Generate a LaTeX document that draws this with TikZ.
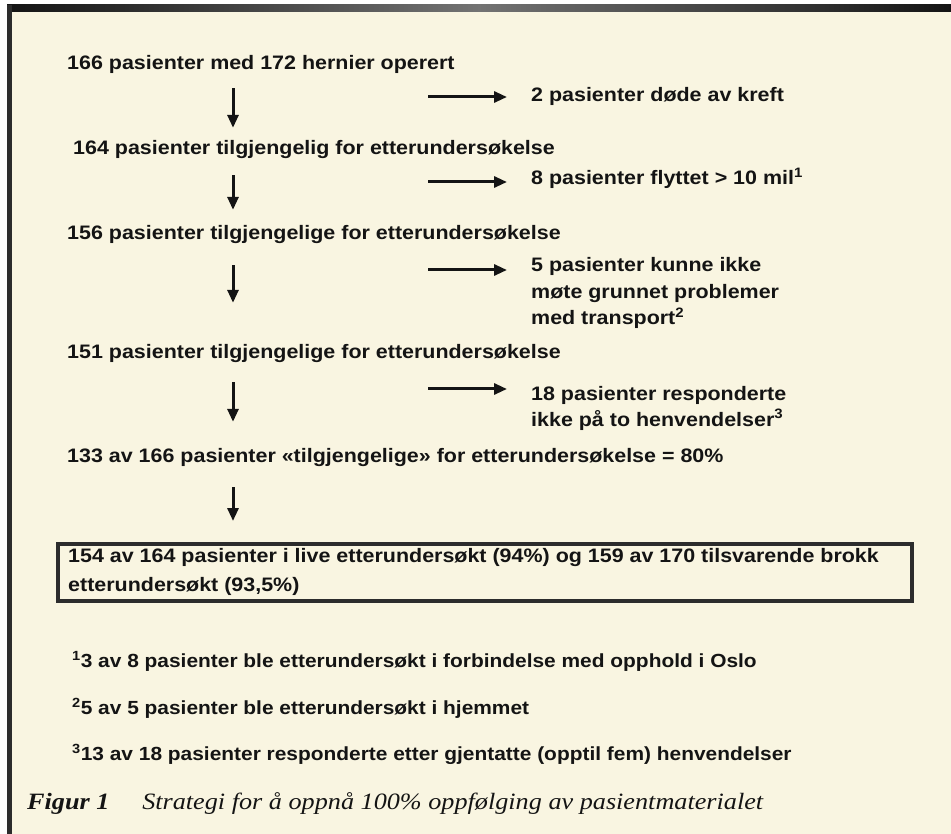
\documentclass[tikz,border=0pt]{standalone}
\usepackage{fontspec}
\newfontfamily\bodyfont[FakeStretch=1.1]{Liberation Sans}
\newfontfamily\capfont[FakeStretch=1.12]{Liberation Serif}
\usetikzlibrary{arrows.meta}
\definecolor{paper}{RGB}{249,245,225}
\definecolor{ink}{RGB}{20,20,20}
\newcommand{\mylines}[1]{\begin{tabular}[t]{@{}l@{}}#1\end{tabular}}
\tikzset{
  txt/.style={anchor=base west, inner sep=0pt, text height=14pt, text depth=4pt, text=ink,
    font=\bodyfont\bfseries\fontsize{19.5}{26.5}\selectfont},
  fntxt/.style={txt, font=\bodyfont\bfseries\fontsize{19}{26}\selectfont},
  mtxt/.style={anchor=base west, inner sep=0pt, text=ink,
    font=\bodyfont\bfseries\fontsize{19.5}{26.5}\selectfont},
  boxtxt/.style={anchor=base west, inner sep=0pt, text=ink,
    font=\bodyfont\bfseries\fontsize{19.5}{29}\selectfont},
  captxt/.style={anchor=base west, inner sep=0pt, text=ink,
    font=\capfont\itshape\fontsize{23.4}{28}\selectfont},
  flow/.style={draw=ink, line width=3pt, -{Triangle[length=13pt,width=11pt]}},
  boxframe/.style={draw=ink!90, line width=4pt, inner sep=0pt, anchor=north west,
    minimum width=854pt, minimum height=57pt}
}
\begin{document}
\begin{tikzpicture}[x=1pt,y=-1pt]
  % page and paper
  \fill[white] (0,0) rectangle (951,834);
  \fill[paper] (7,5) rectangle (951,834);
  \shade[left color=ink, right color=ink, middle color=black!55] (7,5) rectangle (951,12);
  \fill[ink!90] (7,5) rectangle (12,834);
  \useasboundingbox (0,0) rectangle (951,834);

  % main column
  \node[txt] (L1) at (67,70)  {166 pasienter med 172 hernier operert};
  \node[txt] (L2) at (73,155) {164 pasienter tilgjengelig for etterundersøkelse};
  \node[txt] (L3) at (67,240) {156 pasienter tilgjengelige for etterundersøkelse};
  \node[txt] (L4) at (67,359) {151 pasienter tilgjengelige for etterundersøkelse};
  \node[txt] (L5) at (67,462) {133 av 166 pasienter «tilgjengelige» for etterundersøkelse = 80\%};

  % result box
  \node[boxframe] (box) at (56,542) {};
  \node[boxtxt] (boxtext) at (68,562) {\mylines{154 av 164 pasienter i live etterundersøkt (94\%) og 159 av 170 tilsvarende brokk\\etterundersøkt (93,5\%)}};

  % exclusions
  \node[txt]  (R1) at (531,102) {2 pasienter døde av kreft};
  \node[txt]  (R2) at (531,185) {8 pasienter flyttet > 10 mil\textsuperscript{1}};
  \node[mtxt] (R3) at (531,272) {\mylines{5 pasienter kunne ikke\\møte grunnet problemer\\med transport\textsuperscript{2}}};
  \node[mtxt] (R4) at (531,400) {\mylines{18 pasienter responderte\\ikke på to henvendelser\textsuperscript{3}}};

  % footnotes
  \node[fntxt] (F1) at (72,667) {\textsuperscript{1}3 av 8 pasienter ble etterundersøkt i forbindelse med opphold i Oslo};
  \node[fntxt] (F2) at (72,714) {\textsuperscript{2}5 av 5 pasienter ble etterundersøkt i hjemmet};
  \node[fntxt] (F3) at (72,760) {\textsuperscript{3}13 av 18 pasienter responderte etter gjentatte (opptil fem) henvendelser};

  % caption
  \node[captxt] (cap) at (27,809) {{\bfseries Figur 1}\hspace{1.4em}Strategi for å oppnå 100\% oppfølging av pasientmaterialet};

  % down arrows
  \coordinate (ax) at (233,0);
  \draw[flow, shorten <=14pt, shorten >=13pt] (L1.south -| ax) -- (L2.north -| ax);
  \draw[flow, shorten <=16pt, shorten >=16pt] (L2.south -| ax) -- (L3.north -| ax);
  \draw[flow, shorten <=21pt, shorten >=42pt] (L3.south -| ax) -- (L4.north -| ax);
  \draw[flow, shorten <=19pt, shorten >=26pt] (L4.south -| ax) -- (L5.north -| ax);
  \draw[flow, shorten <=21pt, shorten >=21pt] (L5.south -| ax) -- (box.north -| ax);

  % side arrows
  \coordinate (s1) at (428,97);
  \coordinate (s2) at (428,182);
  \coordinate (s3) at (428,270);
  \coordinate (s4) at (428,389);
  \draw[flow, shorten >=24pt] (s1) -- (R1.west |- s1);
  \draw[flow, shorten >=24pt] (s2) -- (R2.west |- s2);
  \draw[flow, shorten >=24pt] (s3) -- (R3.west |- s3);
  \draw[flow, shorten >=24pt] (s4) -- (R4.west |- s4);
\end{tikzpicture}
\end{document}
